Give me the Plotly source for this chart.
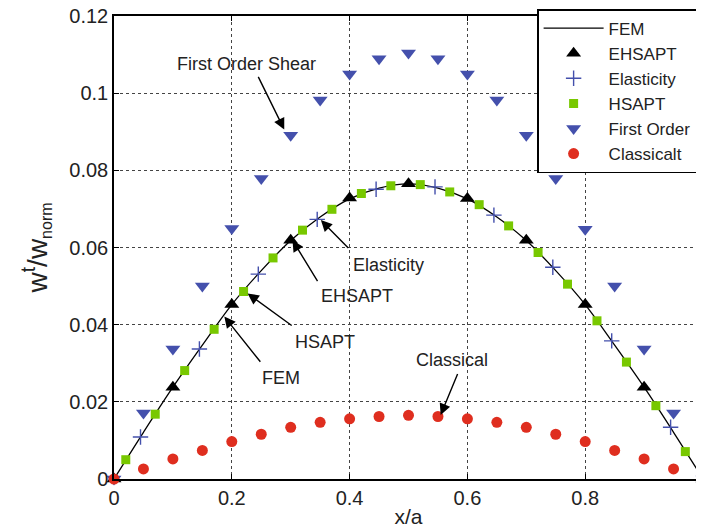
import plotly.graph_objects as go

# ---------------- data ----------------
x_fem = [0, 0.05, 0.1, 0.15, 0.2, 0.25, 0.3, 0.35, 0.4, 0.45, 0.5,
         0.55, 0.6, 0.65, 0.7, 0.75, 0.8, 0.85, 0.9, 0.95, 1.0]
y_fem = [0, 0.0121, 0.0238, 0.0347, 0.0452, 0.0540, 0.0618, 0.0679, 0.0726, 0.0754, 0.0765,
         0.0754, 0.0726, 0.0679, 0.0618, 0.0540, 0.0452, 0.0347, 0.0238, 0.0121, 0]

x_ehsapt = [0, 0.1, 0.2, 0.3, 0.4, 0.5, 0.6, 0.7, 0.8, 0.9, 1.0]
y_ehsapt = [0, 0.0238, 0.0452, 0.0619, 0.0728, 0.0765, 0.0727, 0.0619, 0.0452, 0.0238, 0]

x_elast = [0.045, 0.145, 0.245, 0.345, 0.445, 0.545, 0.645, 0.745, 0.845, 0.945]
y_elast = [0.0109, 0.0337, 0.0531, 0.0673, 0.0751, 0.0757, 0.0684, 0.0549, 0.0358, 0.0134]

x_hsapt = [0.02, 0.07, 0.12, 0.17, 0.22, 0.27, 0.32, 0.37, 0.42, 0.47,
           0.52, 0.57, 0.62, 0.67, 0.72, 0.77, 0.82, 0.87, 0.92, 0.97]
y_hsapt = [0.0050, 0.0168, 0.0281, 0.0388, 0.0486, 0.0573, 0.0645, 0.0699, 0.0740, 0.0760,
           0.0763, 0.0744, 0.0711, 0.0656, 0.0587, 0.0505, 0.0410, 0.0303, 0.0190, 0.0071]

x_first = [0, 0.05, 0.1, 0.15, 0.2, 0.25, 0.3, 0.35, 0.4, 0.45, 0.5,
           0.55, 0.6, 0.65, 0.7, 0.75, 0.8, 0.85, 0.9, 0.95, 1.0]
y_first = [0, 0.0171, 0.0337, 0.0500, 0.0649, 0.0779, 0.0891, 0.0982, 0.1050, 0.1089, 0.1104,
           0.1089, 0.1050, 0.0982, 0.0891, 0.0779, 0.0647, 0.0500, 0.0337, 0.0171, 0]

x_class = [0, 0.05, 0.1, 0.15, 0.2, 0.25, 0.3, 0.35, 0.4, 0.45, 0.5,
           0.55, 0.6, 0.65, 0.7, 0.75, 0.8, 0.85, 0.9, 0.95, 1.0]
y_class = [0, 0.0026, 0.0052, 0.0074, 0.0097, 0.0116, 0.0134, 0.0147, 0.0156, 0.0162, 0.0165,
           0.0162, 0.0156, 0.0147, 0.0134, 0.0116, 0.0097, 0.0074, 0.0052, 0.0026, 0]

x_ticks = [0, 0.2, 0.4, 0.6, 0.8, 1.0]
x_ticklabels = ["0", "0.2", "0.4", "0.6", "0.8", "1"]
y_ticks = [0, 0.02, 0.04, 0.06, 0.08, 0.10, 0.12]
y_ticklabels = ["0", "0.02", "0.04", "0.06", "0.08", "0.1", "0.12"]

# callouts: label, text position, arrow tail, arrow head
callouts = [
    ("First Order Shear", (0.2254, 0.1076), (0.2437, 0.1046), (0.289, 0.0906)),
    ("Elasticity",        (0.4653, 0.0554), (0.4003, 0.0595), (0.3512, 0.0671)),
    ("EHSAPT",            (0.4127, 0.0474), (0.3471, 0.0509), (0.3030, 0.0619)),
    ("HSAPT",             (0.3585, 0.0356), (0.3042, 0.0395), (0.2268, 0.0481)),
    ("FEM",               (0.2834, 0.0261), (0.2505, 0.0300), (0.1873, 0.0421)),
    ("Classical",         (0.5737, 0.0309), (0.5844, 0.0276), (0.5546, 0.0166)),
]

FONT = "Liberation Sans, Arial, Helvetica, sans-serif"
BLUE = "#4450ac"
GREEN = "#78c800"
RED = "#df2e1f"

fig = go.Figure()
fig.add_trace(go.Scatter(x=x_fem, y=y_fem, mode="lines", name="FEM",
                         line=dict(color="black", width=1.3, shape="spline")))
fig.add_trace(go.Scatter(x=x_ehsapt, y=y_ehsapt, mode="markers", name="EHSAPT", cliponaxis=False,
                         marker=dict(symbol="triangle-up", size=13, color="black")))
fig.add_trace(go.Scatter(x=x_elast, y=y_elast, mode="markers", name="Elasticity", cliponaxis=False,
                         marker=dict(symbol="cross-thin", size=11, color=BLUE,
                                     line=dict(color=BLUE, width=1.4))))
fig.add_trace(go.Scatter(x=x_hsapt, y=y_hsapt, mode="markers", name="HSAPT", cliponaxis=False,
                         marker=dict(symbol="square", size=9, color=GREEN)))
fig.add_trace(go.Scatter(x=x_first, y=y_first, mode="markers", name="First Order", cliponaxis=False,
                         marker=dict(symbol="triangle-down", size=13, color=BLUE)))
fig.add_trace(go.Scatter(x=x_class, y=y_class, mode="markers", name="Classicalt", cliponaxis=False,
                         marker=dict(symbol="circle", size=11, color=RED)))

annotations = []
for label, (tx, ty), (ax, ay), (hx, hy) in callouts:
    annotations.append(dict(x=tx, y=ty, xref="x", yref="y", text=label, showarrow=False,
                            font=dict(family=FONT, size=18, color="#222222")))
    annotations.append(dict(x=hx, y=hy, xref="x", yref="y", ax=ax, ay=ay, axref="x", ayref="y",
                            text="", showarrow=True, arrowhead=2, arrowsize=1.6,
                            arrowwidth=1.4, arrowcolor="black", standoff=0))

axis_common = dict(showline=True, linecolor="black", linewidth=1.5, mirror="ticks",
                   ticks="inside", ticklen=5, tickcolor="black", tickwidth=1,
                   showgrid=True, gridcolor="#444444", griddash="dot", gridwidth=1,
                   zeroline=False, automargin=False, ticklabeloverflow="allow",
                   tickfont=dict(family=FONT, size=20, color="#222222"))

# the page body adds an 8 px offset, so the figure is sized to fit the window
fig.update_layout(
    width=696, height=524,
    margin=dict(l=106, r=1, t=8, b=53, autoexpand=False),
    paper_bgcolor="white", plot_bgcolor="white",
    font=dict(family=FONT, color="#222222"),
    xaxis=dict(range=[0, 1], tickvals=x_ticks, ticktext=x_ticklabels,
               title=dict(text="x/a", font=dict(family=FONT, size=21), standoff=2),
               **axis_common),
    yaxis=dict(range=[0, 0.12], tickvals=y_ticks, ticktext=y_ticklabels,
               title=dict(text='w<sup>t</sup>/w<sub><span style="font-size:16px">norm</span></sub>',
                          font=dict(family=FONT, size=28), standoff=14),
               **axis_common),
    legend=dict(x=0.99, y=1.015, xanchor="right", yanchor="top",
                bgcolor="white", bordercolor="black", borderwidth=1.5,
                font=dict(family=FONT, size=17, color="#222222"),
                itemwidth=60, tracegroupgap=0),
    annotations=annotations,
    showlegend=True,
)

fig.write_html("out.html")
